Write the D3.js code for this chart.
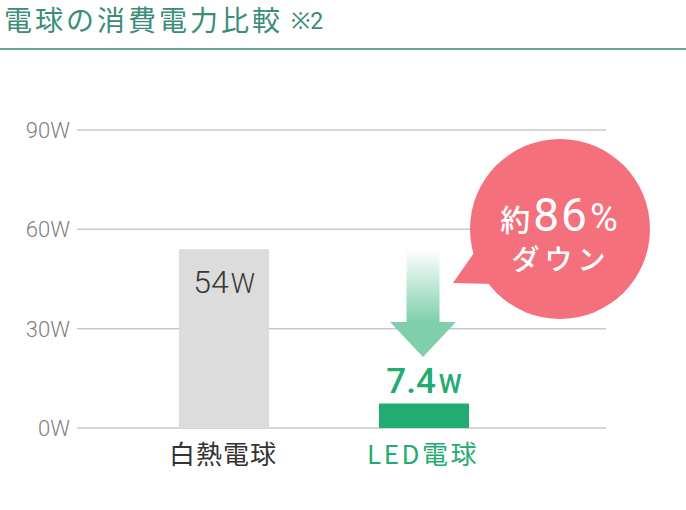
<!DOCTYPE html>
<html>
<head>
<meta charset="utf-8">
<script src="https://cdn.jsdelivr.net/npm/d3@7"></script>
<style>
  body { margin: 0; background: #fff; }
  svg { display: block; }
</style>
</head>
<body>
<div id="wrapper"></div>
<script>
// data
const categories = ["白熱電球", "LED電球"]
const values = [54, 7.4]
const valueLabels = ["54", "7.4"]
const yTicks = [0, 30, 60, 90]
const reduction = "86"

const jp = "'Noto Sans CJK JP', 'Noto Sans', sans-serif"
const num = "Roboto, 'Noto Sans', sans-serif"
const green = "#22ac72"

// dimensions
let dimensions = {
  width: 686,
  height: 510,
}

const wrapper = d3.select("#wrapper")
  .append("svg")
    .attr("width", dimensions.width)
    .attr("height", dimensions.height)

// title
const title = wrapper.append("text")
  .attr("x", 4)
  .attr("y", 31)
  .style("font-family", jp)
  .style("fill", "#3b8c79")
title.append("tspan")
  .style("font-size", "28px")
  .style("letter-spacing", "3px")
  .text("電球の消費電力比較")
title.append("tspan")
  .attr("dx", 8)
  .attr("dy", -2)
  .style("font-size", "23px")
  .style("font-family", num)
  .text("※2")

wrapper.append("line")
  .attr("x1", 0).attr("x2", dimensions.width)
  .attr("y1", 49).attr("y2", 49)
  .attr("stroke", "#62a895")
  .attr("stroke-width", 2.2)

// scales
const yScale = d3.scaleLinear()
  .domain([0, 90])
  .range([428, 130])

const xScale = d3.scaleBand()
  .domain(categories)
  .range([124, 524])
  .paddingInner(0.55)
  .paddingOuter(0.275)

// grid + y labels
const grid = wrapper.append("g")
grid.selectAll("line")
  .data(yTicks)
  .join("line")
    .attr("x1", 77).attr("x2", 606)
    .attr("y1", d => yScale(d)).attr("y2", d => yScale(d))
    .attr("stroke", "#c9c9c9")
    .attr("stroke-width", 1.5)
grid.selectAll("text")
  .data(yTicks)
  .join("text")
    .attr("x", 70)
    .attr("y", d => yScale(d) + 8)
    .attr("text-anchor", "end")
    .style("font-family", num)
    .style("font-weight", 300)
    .style("font-size", "22px")
    .style("fill", "#7f7f7f")
    .text(d => d + "W")

// bars
const barColors = ["#dcdcdd", green]
wrapper.append("g").selectAll("rect")
  .data(values)
  .join("rect")
    .attr("x", (d, i) => xScale(categories[i]))
    .attr("y", d => yScale(d))
    .attr("width", xScale.bandwidth())
    .attr("height", d => yScale(0) - yScale(d))
    .attr("fill", (d, i) => barColors[i])

const cx = i => xScale(categories[i]) + xScale.bandwidth() / 2

// value labels
const oldLabel = wrapper.append("text")
  .attr("x", cx(0))
  .attr("y", 293)
  .attr("text-anchor", "middle")
  .style("font-family", num)
  .style("fill", "#383838")
oldLabel.append("tspan").style("font-size", "32px").style("font-weight", 300).text(valueLabels[0])
oldLabel.append("tspan").attr("dx", 2).style("font-size", "27px").style("font-weight", 300).text("W")

const newLabelY = yScale(values[1]) - 10
const newLabel = wrapper.append("text")
  .attr("x", cx(1))
  .attr("y", newLabelY)
  .attr("text-anchor", "middle")
  .style("font-family", num)
  .style("font-weight", 500)
  .style("fill", green)
newLabel.append("tspan").style("font-size", "35px").text(valueLabels[1])
newLabel.append("tspan").attr("dx", 3).style("font-size", "26px").text("W")

// category labels
wrapper.append("g").selectAll("text")
  .data(categories)
  .join("text")
    .attr("x", (d, i) => cx(i) - 1)
    .attr("y", 464)
    .attr("text-anchor", "middle")
    .style("font-family", jp)
    .style("font-size", "26px")
    .style("letter-spacing", (d, i) => i == 0 ? "1px" : "2.5px")
    .style("fill", (d, i) => i == 0 ? "#333" : green)
    .text(d => d)

// arrow
const defs = wrapper.append("defs")
const grad = defs.append("linearGradient")
  .attr("id", "arrowGrad")
  .attr("gradientUnits", "userSpaceOnUse")
  .attr("x1", 0).attr("x2", 0)
  .attr("y1", yScale(values[0])).attr("y2", 322)
grad.append("stop").attr("offset", "0%").attr("stop-color", "#7fcfac").attr("stop-opacity", 0)
grad.append("stop").attr("offset", "100%").attr("stop-color", "#7fcfac").attr("stop-opacity", 1)

const ax = cx(1) - 1
const aTop = yScale(values[0])
const aNeck = 322
const aTip = 357
wrapper.append("path")
  .attr("d", `M${ax - 16.5},${aTop} L${ax + 16.5},${aTop} L${ax + 16.5},${aNeck}
    L${ax + 33},${aNeck} L${ax},${aTip} L${ax - 33},${aNeck} L${ax - 16.5},${aNeck} Z`)
  .attr("fill", "url(#arrowGrad)")

// bubble
const pink = "#f4707c"
const bubble = wrapper.append("g")
bubble.append("path")
  .attr("d", "M453,283 L476,250 L494,284 Z")
  .attr("fill", pink)
bubble.append("circle")
  .attr("cx", 560).attr("cy", 229).attr("r", 90)
  .attr("fill", pink)

const pct = bubble.append("text")
  .attr("x", 559)
  .attr("y", 231)
  .attr("text-anchor", "middle")
  .style("fill", "#fff")
pct.append("tspan").style("font-family", jp).style("font-size", "30px").style("font-weight", 500).text("約")
pct.append("tspan").attr("dx", 3).style("font-family", num).style("font-size", "46px").style("font-weight", 400)
  .style("letter-spacing", "2px").text(reduction)
pct.append("tspan").attr("dx", 1).style("font-family", num).style("font-size", "38px").style("font-weight", 400).text("%")

bubble.append("text")
  .attr("x", 561)
  .attr("y", 270)
  .attr("text-anchor", "middle")
  .style("fill", "#fff")
  .style("font-family", jp)
  .style("font-size", "28px")
  .style("font-weight", 500)
  .style("letter-spacing", "5px")
  .text("ダウン")
</script>
</body>
</html>
